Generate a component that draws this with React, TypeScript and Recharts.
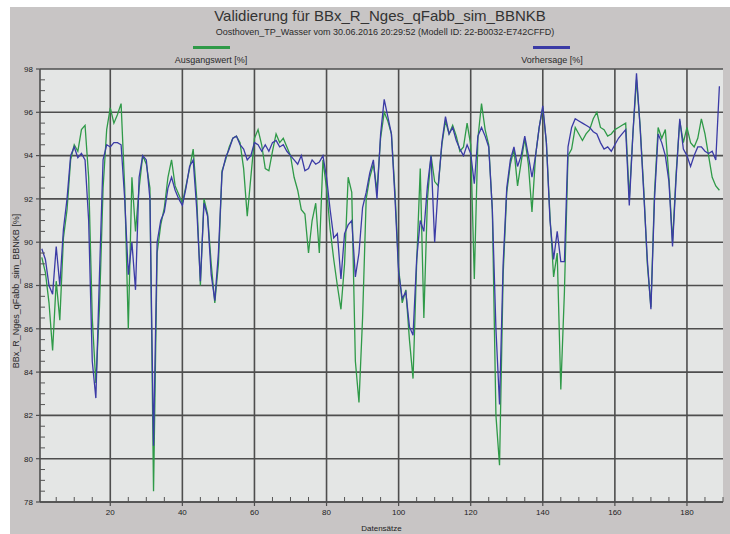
import React from 'react';
import { LineChart, Line, XAxis, YAxis, CartesianGrid } from 'recharts';

// Datensätze 1..189
const ausgangswert = [
  89.3, 88.6, 87.2, 85.0, 88.2, 86.4, 90.2, 91.5, 93.8, 94.5,
  94.2, 95.2, 95.4, 93.0, 86.5, 83.5, 87.0, 92.5, 95.2, 96.2,
  95.5, 95.9, 96.4, 92.5, 86.0, 93.0, 90.5, 92.5, 94.0, 93.6,
  92.5, 78.5, 89.5, 90.8, 91.6, 93.0, 93.8, 92.6, 92.2, 91.8,
  92.6, 93.4, 94.3, 92.0, 88.0, 92.0, 91.3, 89.0, 87.2, 89.0,
  93.3, 93.8, 94.4, 94.8, 94.9, 94.6, 93.4, 91.2, 93.0, 94.8,
  95.2, 94.5, 93.4, 93.3, 94.2, 95.0, 94.6, 94.8, 94.4, 94.0,
  93.0, 92.4, 91.5, 91.3, 89.5, 91.0, 91.8, 89.5, 93.8, 92.5,
  90.6, 89.2, 88.0, 86.9, 89.0, 93.0, 92.3, 84.5, 82.6, 86.5,
  92.0, 93.0, 93.6, 92.4, 94.8, 96.0, 95.6, 95.0, 92.3, 88.8,
  87.2, 87.8, 85.5, 83.7, 89.0, 93.4, 86.5, 92.0, 94.0, 92.8,
  92.6, 94.5, 95.6, 95.0, 95.4, 94.9, 94.2, 94.4, 95.5, 94.5,
  88.3, 94.8, 96.4, 95.2, 94.5, 91.5, 82.0, 79.7, 88.5, 92.3,
  93.6, 94.3, 92.6, 93.7, 94.8, 93.6, 91.4, 94.0, 95.3, 96.2,
  94.6, 91.2, 88.4, 89.5, 83.2, 87.7, 94.0, 94.3, 95.3, 95.0,
  94.7, 95.0, 95.2, 95.7, 96.0, 95.3, 95.2, 94.9, 95.0, 95.2,
  95.3, 95.4, 95.5, 92.0, 95.0, 97.5, 95.4, 92.5, 89.0, 87.0,
  92.3, 95.3, 94.8, 95.2, 93.0, 90.0, 93.2, 95.6, 94.6, 95.3,
  94.6, 94.4, 94.8, 95.7, 95.0, 94.0, 93.0, 92.6, 92.4,
];

const vorhersage = [
  89.7, 89.2, 88.0, 87.6, 89.8, 88.0, 90.6, 92.0, 94.0, 94.4,
  93.9, 94.1, 93.8, 91.0, 84.5, 82.8, 88.5, 93.8, 94.5, 94.4,
  94.6, 94.6, 94.5, 92.0, 88.5, 90.0, 87.8, 93.0, 94.0, 93.8,
  92.0, 80.6, 90.0, 91.0, 91.4, 92.5, 93.0, 92.4, 92.0, 91.7,
  92.5, 93.5, 93.8, 91.5, 88.2, 91.8, 91.2, 88.5, 87.3, 89.5,
  93.2, 93.9, 94.3, 94.8, 94.9, 94.5, 94.3, 93.8, 94.0, 94.6,
  94.5, 94.2, 94.5, 94.2, 94.6, 94.7, 94.4, 94.5, 94.2, 94.0,
  93.8, 93.6, 94.0, 93.3, 93.4, 93.8, 93.6, 93.7, 94.0, 93.0,
  91.5, 90.2, 90.4, 88.3, 90.4, 90.8, 91.0, 88.4, 89.5, 91.6,
  92.3, 93.2, 93.8, 92.0, 95.0, 96.6, 95.8, 95.0, 92.0, 88.6,
  87.4, 87.7, 86.1, 85.7, 89.2, 91.0, 90.5, 92.6, 94.0, 90.0,
  92.6, 94.6, 95.8, 95.0, 95.3, 94.7, 94.3, 94.0, 94.5, 94.1,
  92.7, 94.9, 95.3, 94.9, 94.4, 91.5, 86.0, 82.5, 89.0, 92.5,
  93.8, 94.4, 93.5, 94.0, 94.9, 94.0, 93.0, 94.0, 95.3, 96.3,
  94.6, 91.0, 89.2, 90.5, 89.1, 89.1, 94.4, 95.3, 95.7, 95.6,
  95.5, 95.4, 95.3, 95.1, 95.0, 94.6, 94.3, 94.4, 94.2, 94.5,
  94.8, 95.0, 95.2, 91.7, 95.0, 97.8, 95.3, 92.3, 89.2, 86.9,
  92.0, 95.0, 94.6, 94.0, 92.8, 89.8, 93.0, 95.7, 94.3, 94.0,
  93.5, 94.0, 94.4, 94.4, 94.2, 94.1, 94.2, 93.8, 97.2,
];

const xTicks = [20, 40, 60, 80, 100, 120, 140, 160, 180];
const yTicks = [78, 80, 82, 84, 86, 88, 90, 92, 94, 96, 98];

const data = ausgangswert.map((v, i) => ({
  satz: i + 1,
  ausgangswert: v,
  vorhersage: vorhersage[i],
}));

const X_DOMAIN: [number, number] = [0.5, 190];
const Y_DOMAIN: [number, number] = [78, 98];

// all tick positions incl. the small inner ones (every 5 records / every 0.5 %)
const xAllTicks: number[] = [];
for (let t = 5; t <= 190; t += 5) xAllTicks.push(t);
const yAllTicks: number[] = [];
for (let t = 78; t <= 98; t += 0.5) yAllTicks.push(t);

const FONT = '"Liberation Sans", Arial, sans-serif';
const GREEN = '#2f9a48';
const BLUE = '#3b3ba6';
const GRID = '#4e4e4e';
const TS = 4; // outer tick length
const TM = 3; // tick label gap
const MINOR = 5; // inner tick length

const YTick = (p: any) => {
  const edge = p.x + TS + TM;
  const v = p.payload.value;
  if (yTicks.includes(v)) {
    return (
      <g>
        <line x1={edge - TS} x2={edge} y1={p.y} y2={p.y} stroke={GRID} strokeWidth={1.2} />
        <text x={p.x} y={p.y} dy="0.35em" textAnchor="end" fontSize={8} fill="#222" fontFamily={FONT}>{v}</text>
      </g>
    );
  }
  return <line x1={edge} x2={edge + MINOR} y1={p.y} y2={p.y} stroke="#555" strokeWidth={1} />;
};

const XTick = (p: any) => {
  const edge = p.y - TS - TM;
  const v = p.payload.value;
  if (xTicks.includes(v)) {
    return (
      <g>
        <line x1={p.x} x2={p.x} y1={edge} y2={edge + TS} stroke={GRID} strokeWidth={1.2} />
        <text x={p.x} y={p.y} dy="0.71em" textAnchor="middle" fontSize={8} fill="#222" fontFamily={FONT}>{v}</text>
      </g>
    );
  }
  return <line x1={p.x} x2={p.x} y1={edge} y2={edge - MINOR} stroke="#555" strokeWidth={1} />;
};

const abs = (s: React.CSSProperties): React.CSSProperties => ({
  position: 'absolute',
  whiteSpace: 'nowrap',
  fontFamily: FONT,
  color: '#2a2a2a',
  ...s,
});

export default function App() {
  return (
    <div style={{ position: 'absolute', left: 0, top: 0, width: 730, height: 534, background: '#fff', overflow: 'hidden' }}>
      <div style={{ position: 'absolute', left: 10, top: 7, width: 720, height: 527, background: '#c8c5c5' }} />
      <div style={{ position: 'absolute', left: 0, top: 0 }}>
        <LineChart width={730} height={534} data={data} margin={{ top: 69, right: 7, left: 0, bottom: 0 }}>
          <CartesianGrid fill="#e4e6e5" stroke={GRID} strokeWidth={1.6} horizontalValues={yTicks} verticalValues={xTicks} />
          <XAxis
            dataKey="satz"
            type="number"
            domain={X_DOMAIN}
            allowDataOverflow
            ticks={xAllTicks}
            interval={0}
            height={32}
            tickSize={TS}
            tickMargin={TM}
            tickLine={false}
            tick={XTick}
            axisLine={{ stroke: GRID, strokeWidth: 1.6 }}
            label={{ value: 'Datensätze', position: 'insideBottom', offset: 3, fontSize: 8, fill: '#222', fontFamily: FONT }}
          />
          <YAxis
            type="number"
            domain={Y_DOMAIN}
            allowDataOverflow
            ticks={yAllTicks}
            interval={0}
            width={40}
            tickSize={TS}
            tickMargin={TM}
            tickLine={false}
            tick={YTick}
            axisLine={{ stroke: GRID, strokeWidth: 1.6 }}
          />
          <YAxis
            yAxisId="right"
            orientation="right"
            type="number"
            domain={Y_DOMAIN}
            width={0}
            tick={false}
            tickLine={false}
            axisLine={{ stroke: GRID, strokeWidth: 1.6 }}
          />
          <Line type="linear" dataKey="ausgangswert" stroke={GREEN} strokeWidth={1.3} dot={false} isAnimationActive={false} />
          <Line type="linear" dataKey="vorhersage" stroke={BLUE} strokeWidth={1.3} dot={false} isAnimationActive={false} />
        </LineChart>
      </div>

      <div style={abs({ left: 380, top: 15, transform: 'translate(-50%, -50%)', fontSize: 15, color: '#333' })}>
        Validierung für BBx_R_Nges_qFabb_sim_BBNKB
      </div>
      <div style={abs({ left: 385, top: 32, transform: 'translate(-50%, -50%)', fontSize: 9 })}>
        Oosthoven_TP_Wasser vom 30.06.2016 20:29:52 (Modell ID: 22-B0032-E742CFFD)
      </div>

      <div style={{ position: 'absolute', left: 193, top: 46, width: 37, height: 3, background: GREEN }} />
      <div style={abs({ left: 211, top: 60, transform: 'translate(-50%, -50%)', fontSize: 9 })}>Ausgangswert [%]</div>
      <div style={{ position: 'absolute', left: 533, top: 46, width: 37, height: 3, background: BLUE }} />
      <div style={abs({ left: 552, top: 60, transform: 'translate(-50%, -50%)', fontSize: 9 })}>Vorhersage [%]</div>

      <div style={abs({ left: 16, top: 291, transform: 'translate(-50%, -50%) rotate(-90deg)', fontSize: 9 })}>
        BBx_R_Nges_qFabb_sim_BBNKB [%]
      </div>
    </div>
  );
}
